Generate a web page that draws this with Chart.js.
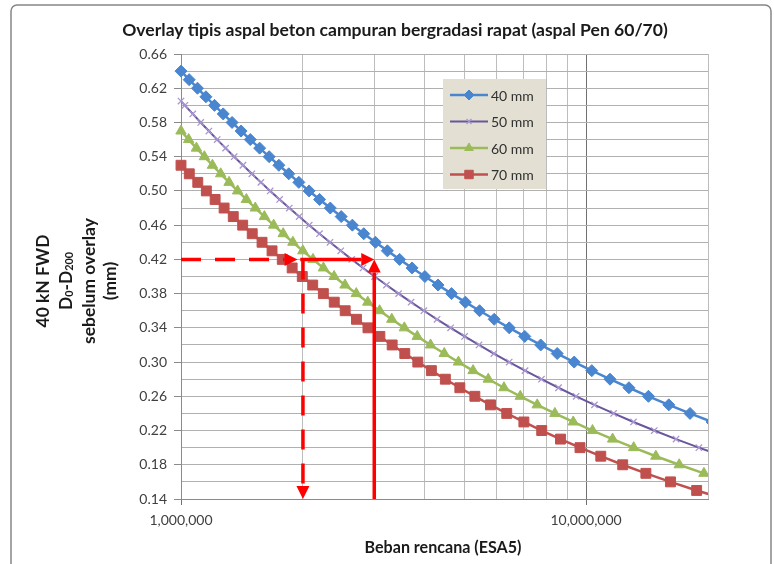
<!DOCTYPE html>
<html>
<head>
<meta charset="utf-8">
<script src="https://cdn.jsdelivr.net/npm/chart.js@4.4.1/dist/chart.umd.min.js"></script>
<style>
  html, body { margin: 0; padding: 0; background: #ffffff; }
  canvas { display: block; }
</style>
</head>
<body>
<canvas id="chart" width="774" height="564"></canvas>
<script>
// Thin overlay of dense-graded asphalt concrete (Pen 60/70):
// allowable 40 kN FWD curvature (D0-D200) versus design load in ESA5.

const seriesNames = ['40 mm', '50 mm', '60 mm', '70 mm'];

// 40 mm overlay
const defl40 = [0.64, 0.63, 0.62, 0.61, 0.60, 0.59, 0.58, 0.57, 0.56, 0.55, 0.54, 0.53, 0.52, 0.51,
  0.50, 0.49, 0.48, 0.47, 0.46, 0.45, 0.44, 0.43, 0.42, 0.41, 0.40, 0.39, 0.38, 0.37, 0.36, 0.35,
  0.34, 0.33, 0.32, 0.31, 0.30, 0.29, 0.28, 0.27, 0.26, 0.25, 0.24, 0.23];
const esa40 = [1000000, 1047600, 1098200, 1152100, 1209700, 1271200, 1336900, 1407300, 1482700,
  1563700, 1650700, 1744100, 1845200, 1953900, 2071400, 2198400, 2336400, 2486100, 2648900, 2826400,
  3020200, 3232000, 3464400, 3719700, 4000600, 4311100, 4654100, 5035300, 5459000, 5931800, 6461600,
  7056700, 7727000, 8485500, 9347600, 10330000, 11457000, 12759000, 14257000, 16005000, 18057000,
  20469000];

// 50 mm overlay
const defl50 = [0.605, 0.60, 0.59, 0.58, 0.57, 0.56, 0.55, 0.54, 0.53, 0.52, 0.51, 0.50, 0.49, 0.48,
  0.47, 0.46, 0.45, 0.44, 0.43, 0.42, 0.41, 0.40, 0.39, 0.38, 0.37, 0.36, 0.35, 0.34, 0.33, 0.32,
  0.31, 0.30, 0.29, 0.28, 0.27, 0.26, 0.25, 0.24, 0.23, 0.22, 0.21, 0.20, 0.19];
const esa50 = [1000000, 1022400, 1069100, 1118600, 1171800, 1228200, 1288500, 1352900, 1421900,
  1495900, 1575100, 1660300, 1751800, 1850700, 1957300, 2072500, 2197200, 2332600, 2479600, 2639800,
  2814600, 3005600, 3215000, 3444900, 3698000, 3977700, 4287100, 4630800, 5013400, 5440700, 5920000,
  6459700, 7069100, 7760500, 8548900, 9451400, 10490000, 11694000, 13094000, 14738000, 16680000,
  18991000, 21767000];

// 60 mm overlay
const defl60 = [0.57, 0.56, 0.55, 0.54, 0.53, 0.52, 0.51, 0.50, 0.49, 0.48, 0.47, 0.46, 0.45, 0.44,
  0.43, 0.42, 0.41, 0.40, 0.39, 0.38, 0.37, 0.36, 0.35, 0.34, 0.33, 0.32, 0.31, 0.30, 0.29, 0.28,
  0.27, 0.26, 0.25, 0.24, 0.23, 0.22, 0.21, 0.20, 0.19, 0.18, 0.17, 0.16];
const esa60 = [1000000, 1044400, 1091700, 1142100, 1195700, 1253000, 1314200, 1379600, 1450000,
  1525400, 1606300, 1693400, 1787500, 1889000, 1998700, 2117700, 2246800, 2387300, 2540600, 2708100,
  2891500, 3092700, 3314200, 3559000, 3830100, 4130700, 4465800, 4840500, 5261000, 5735100, 6270800,
  6880100, 7576000, 8375300, 9298000, 10372000, 11628000, 13108000, 14869000, 16982000, 19542000,
  22680000];

// 70 mm overlay
const defl70 = [0.53, 0.52, 0.51, 0.50, 0.49, 0.48, 0.47, 0.46, 0.45, 0.44, 0.43, 0.42, 0.41, 0.40,
  0.39, 0.38, 0.37, 0.36, 0.35, 0.34, 0.33, 0.32, 0.31, 0.30, 0.29, 0.28, 0.27, 0.26, 0.25, 0.24,
  0.23, 0.22, 0.21, 0.20, 0.19, 0.18, 0.17, 0.16, 0.15, 0.14];
const esa70 = [1000000, 1048300, 1100100, 1155000, 1214000, 1277700, 1345900, 1419800, 1499100,
  1585200, 1677900, 1778300, 1881100, 1992700, 2114200, 2246000, 2389800, 2542900, 2711400, 2894500,
  3097400, 3321200, 3568600, 3842400, 4150700, 4493800, 4879700, 5314800, 5808900, 6370600, 7022500,
  7771400, 8646200, 9660500, 10873000, 12316000, 14050000, 16160000, 18750000, 21979000];

// Axis ticks
const xTickValues = [1000000, 2000000, 3000000, 4000000, 5000000, 6000000, 7000000, 8000000,
  9000000, 10000000, 20000000];
const xLabelValues = [1000000, 10000000];
const yTickValues = [0.14, 0.16, 0.18, 0.20, 0.22, 0.24, 0.26, 0.28, 0.30, 0.32, 0.34, 0.36, 0.38,
  0.40, 0.42, 0.44, 0.46, 0.48, 0.50, 0.52, 0.54, 0.56, 0.58, 0.60, 0.62, 0.64, 0.66];
const yLabelValues = [0.14, 0.18, 0.22, 0.26, 0.30, 0.34, 0.38, 0.42, 0.46, 0.50, 0.54, 0.58, 0.62, 0.66];

// Worked example: reading guide arrows, in data units [ESA5, deflection]
const guideArrows = [
  { from: [1000000, 0.42], to: [1940000, 0.42], dashed: true },
  { from: [2000000, 0.42], to: [2000000, 0.14], dashed: true },
  { from: [1970000, 0.42], to: [3000000, 0.42], dashed: false },
  { from: [3000000, 0.14], to: [3000000, 0.42], dashed: false }
];

const titleText = 'Overlay tipis aspal beton campuran bergradasi rapat (aspal Pen 60/70)';
const xTitleText = 'Beban rencana (ESA5)';
const FONT = "Lato, 'Open Sans', 'DejaVu Sans', sans-serif";

function pairs(xs, ys) { return xs.map((x, i) => ({ x: x, y: ys[i] })); }
function near(v, list) { return list.some(t => Math.abs(t - v) < 1e-6 * Math.max(1, Math.abs(t))); }

const datasets = [
  { label: seriesNames[0], data: pairs(esa40, defl40), borderColor: '#4A86CF', backgroundColor: '#4A86CF',
    borderWidth: 2.5, pointStyle: 'rectRot', pointRadius: 6, pointBorderWidth: 1, pointBorderColor: '#4A86CF' },
  { label: seriesNames[1], data: pairs(esa50, defl50), borderColor: '#6A569C', backgroundColor: '#A996D2',
    borderWidth: 2, pointStyle: 'crossRot', pointRadius: 4.5, pointBorderWidth: 1.3, pointBorderColor: '#A996D2' },
  { label: seriesNames[2], data: pairs(esa60, defl60), borderColor: '#9BBB59', backgroundColor: '#9BBB59',
    borderWidth: 2.5, pointStyle: 'triangle', pointRadius: 6, pointBorderWidth: 1, pointBorderColor: '#9BBB59' },
  { label: seriesNames[3], data: pairs(esa70, defl70), borderColor: '#C0504D', backgroundColor: '#C0504D',
    borderWidth: 2.5, pointStyle: 'rect', pointRadius: 7, pointBorderWidth: 1, pointBorderColor: '#C0504D' }
].map(d => Object.assign(d, { fill: false, tension: 0, clip: { left: 10, top: 10, right: 0, bottom: 0 } }));

function fitSize(ctx, text, weight, target) {
  ctx.font = weight + ' 20px ' + FONT;
  return 20 * target / ctx.measureText(text).width;
}

function drawArrow(ctx, x1, y1, x2, y2, dashed) {
  const ang = Math.atan2(y2 - y1, x2 - x1);
  const headLen = 13, headHalf = 6.5;
  const bx = x2 - Math.cos(ang) * headLen, by = y2 - Math.sin(ang) * headLen;
  ctx.save();
  ctx.strokeStyle = '#FF0000';
  ctx.fillStyle = '#FF0000';
  ctx.lineWidth = 3.5;
  ctx.setLineDash(dashed ? [20, 14] : []);
  ctx.beginPath();
  ctx.moveTo(x1, y1);
  ctx.lineTo(bx, by);
  ctx.stroke();
  ctx.setLineDash([]);
  ctx.beginPath();
  ctx.moveTo(x2, y2);
  ctx.lineTo(bx - Math.sin(ang) * headHalf, by + Math.cos(ang) * headHalf);
  ctx.lineTo(bx + Math.sin(ang) * headHalf, by - Math.cos(ang) * headHalf);
  ctx.closePath();
  ctx.fill();
  ctx.restore();
}

const decorPlugin = {
  id: 'decor',
  beforeDraw(chart) {
    const ctx = chart.ctx;
    ctx.save();
    ctx.fillStyle = '#ffffff';
    ctx.fillRect(0, 0, chart.width, chart.height);
    ctx.restore();
  },
  afterDatasetsDraw(chart) {
    const ctx = chart.ctx, xs = chart.scales.x, ys = chart.scales.y;
    guideArrows.forEach(a => {
      drawArrow(ctx, xs.getPixelForValue(a.from[0]), ys.getPixelForValue(a.from[1]),
        xs.getPixelForValue(a.to[0]), ys.getPixelForValue(a.to[1]), a.dashed);
    });
  },
  afterDraw(chart) {
    const ctx = chart.ctx;
    ctx.save();

    // outer frame
    ctx.strokeStyle = '#868686';
    ctx.lineWidth = 1.5;
    ctx.beginPath();
    if (ctx.roundRect) ctx.roundRect(11, 5, 760, 580, 6); else ctx.rect(11, 5, 760, 580);
    ctx.stroke();

    // chart title
    ctx.fillStyle = '#1a1a1a';
    ctx.textAlign = 'center';
    ctx.textBaseline = 'middle';
    const ts = fitSize(ctx, titleText, 'bold', 546);
    ctx.font = 'bold ' + ts.toFixed(2) + 'px ' + FONT;
    ctx.fillText(titleText, 395, 30);

    // x axis title
    const xs = fitSize(ctx, xTitleText, 'bold', 157);
    ctx.font = 'bold ' + xs.toFixed(2) + 'px ' + FONT;
    ctx.fillText(xTitleText, 443, 548);

    // y axis title (rotated, four lines, with subscripts)
    const ys = fitSize(ctx, 'sebelum overlay', 'bold', 126);
    const mainFont = 'bold ' + ys.toFixed(2) + 'px ' + FONT;
    const subFont = 'bold ' + (ys * 0.62).toFixed(2) + 'px ' + FONT;
    const cy = 281;
    const simpleLine = (text, x) => {
      ctx.save();
      ctx.translate(x, cy);
      ctx.rotate(-Math.PI / 2);
      ctx.font = mainFont;
      ctx.textAlign = 'center';
      ctx.fillText(text, 0, 0);
      ctx.restore();
    };
    simpleLine('40 kN FWD', 43);
    simpleLine('sebelum overlay', 89);
    simpleLine('(mm)', 110);
    const parts = [['D', false], ['0', true], ['-D', false], ['200', true]];
    ctx.save();
    ctx.translate(66, cy);
    ctx.rotate(-Math.PI / 2);
    let total = 0;
    parts.forEach(p => { ctx.font = p[1] ? subFont : mainFont; total += ctx.measureText(p[0]).width; });
    let px = -total / 2;
    ctx.textAlign = 'left';
    parts.forEach(p => {
      ctx.font = p[1] ? subFont : mainFont;
      ctx.fillText(p[0], px, p[1] ? 4 : 0);
      px += ctx.measureText(p[0]).width;
    });
    ctx.restore();

    // legend
    const lx = 443, ly = 79, lw = 103, lh = 110;
    ctx.fillStyle = '#E3E0D3';
    ctx.fillRect(lx, ly, lw, lh);
    ctx.font = '14px ' + FONT;
    ctx.textAlign = 'left';
    ctx.textBaseline = 'middle';
    chart.data.datasets.forEach((ds, i) => {
      const ry = ly + 16 + i * 26.5;
      ctx.strokeStyle = ds.borderColor;
      ctx.lineWidth = ds.borderWidth;
      ctx.beginPath();
      ctx.moveTo(lx + 7, ry);
      ctx.lineTo(lx + 45, ry);
      ctx.stroke();
      ctx.fillStyle = ds.backgroundColor;
      ctx.strokeStyle = ds.pointBorderColor;
      ctx.lineWidth = ds.pointBorderWidth;
      if (Chart.helpers && Chart.helpers.drawPoint) {
        Chart.helpers.drawPoint(ctx, { pointStyle: ds.pointStyle, radius: ds.pointRadius - 1,
          rotation: 0, borderWidth: ds.pointBorderWidth }, lx + 26, ry);
      }
      ctx.fillStyle = '#303030';
      ctx.fillText(ds.label, lx + 48, ry + 1);
    });
    ctx.restore();
  }
};

new Chart(document.getElementById('chart'), {
  type: 'line',
  data: { datasets: datasets },
  plugins: [decorPlugin],
  options: {
    responsive: false,
    animation: false,
    events: [],
    devicePixelRatio: 1,
    layout: { padding: { top: 54, right: 66, bottom: 0, left: 0 } },
    plugins: { legend: { display: false }, title: { display: false }, tooltip: { enabled: false } },
    scales: {
      x: {
        type: 'logarithmic',
        min: 1000000,
        max: 20000000,
        afterBuildTicks(scale) { scale.ticks = xTickValues.map(v => ({ value: v })); },
        afterFit(scale) { scale.height = 65; },
        ticks: {
          autoSkip: false,
          maxRotation: 0,
          padding: 7,
          color: '#404040',
          font: { family: FONT, size: 14 },
          callback: (v) => near(v, xLabelValues) ? Number(v).toLocaleString('en-US') : ''
        },
        grid: {
          color: (c) => (c.tick && Math.abs(c.tick.value - 10000000) < 1) ? '#707070' : '#BDBDBD',
          tickColor: (c) => (c.tick && near(c.tick.value, xLabelValues)) ? '#707070' : 'rgba(0,0,0,0)',
          tickLength: 6,
          lineWidth: 1
        },
        border: { color: '#8A8A8A', width: 1 }
      },
      y: {
        type: 'linear',
        min: 0.14,
        max: 0.66,
        afterBuildTicks(scale) { scale.ticks = yTickValues.map(v => ({ value: v })); },
        afterFit(scale) { scale.width = 181; },
        ticks: {
          autoSkip: false,
          padding: 7,
          color: '#404040',
          font: { family: FONT, size: 14 },
          callback: (v) => near(v, yLabelValues) ? Number(v).toFixed(2) : ''
        },
        grid: {
          color: '#B0B0B0',
          tickColor: (c) => (c.tick && near(c.tick.value, yLabelValues)) ? '#8A8A8A' : 'rgba(0,0,0,0)',
          tickLength: 7,
          lineWidth: 1
        },
        border: { color: '#8A8A8A', width: 1 }
      }
    }
  }
});
</script>
</body>
</html>
